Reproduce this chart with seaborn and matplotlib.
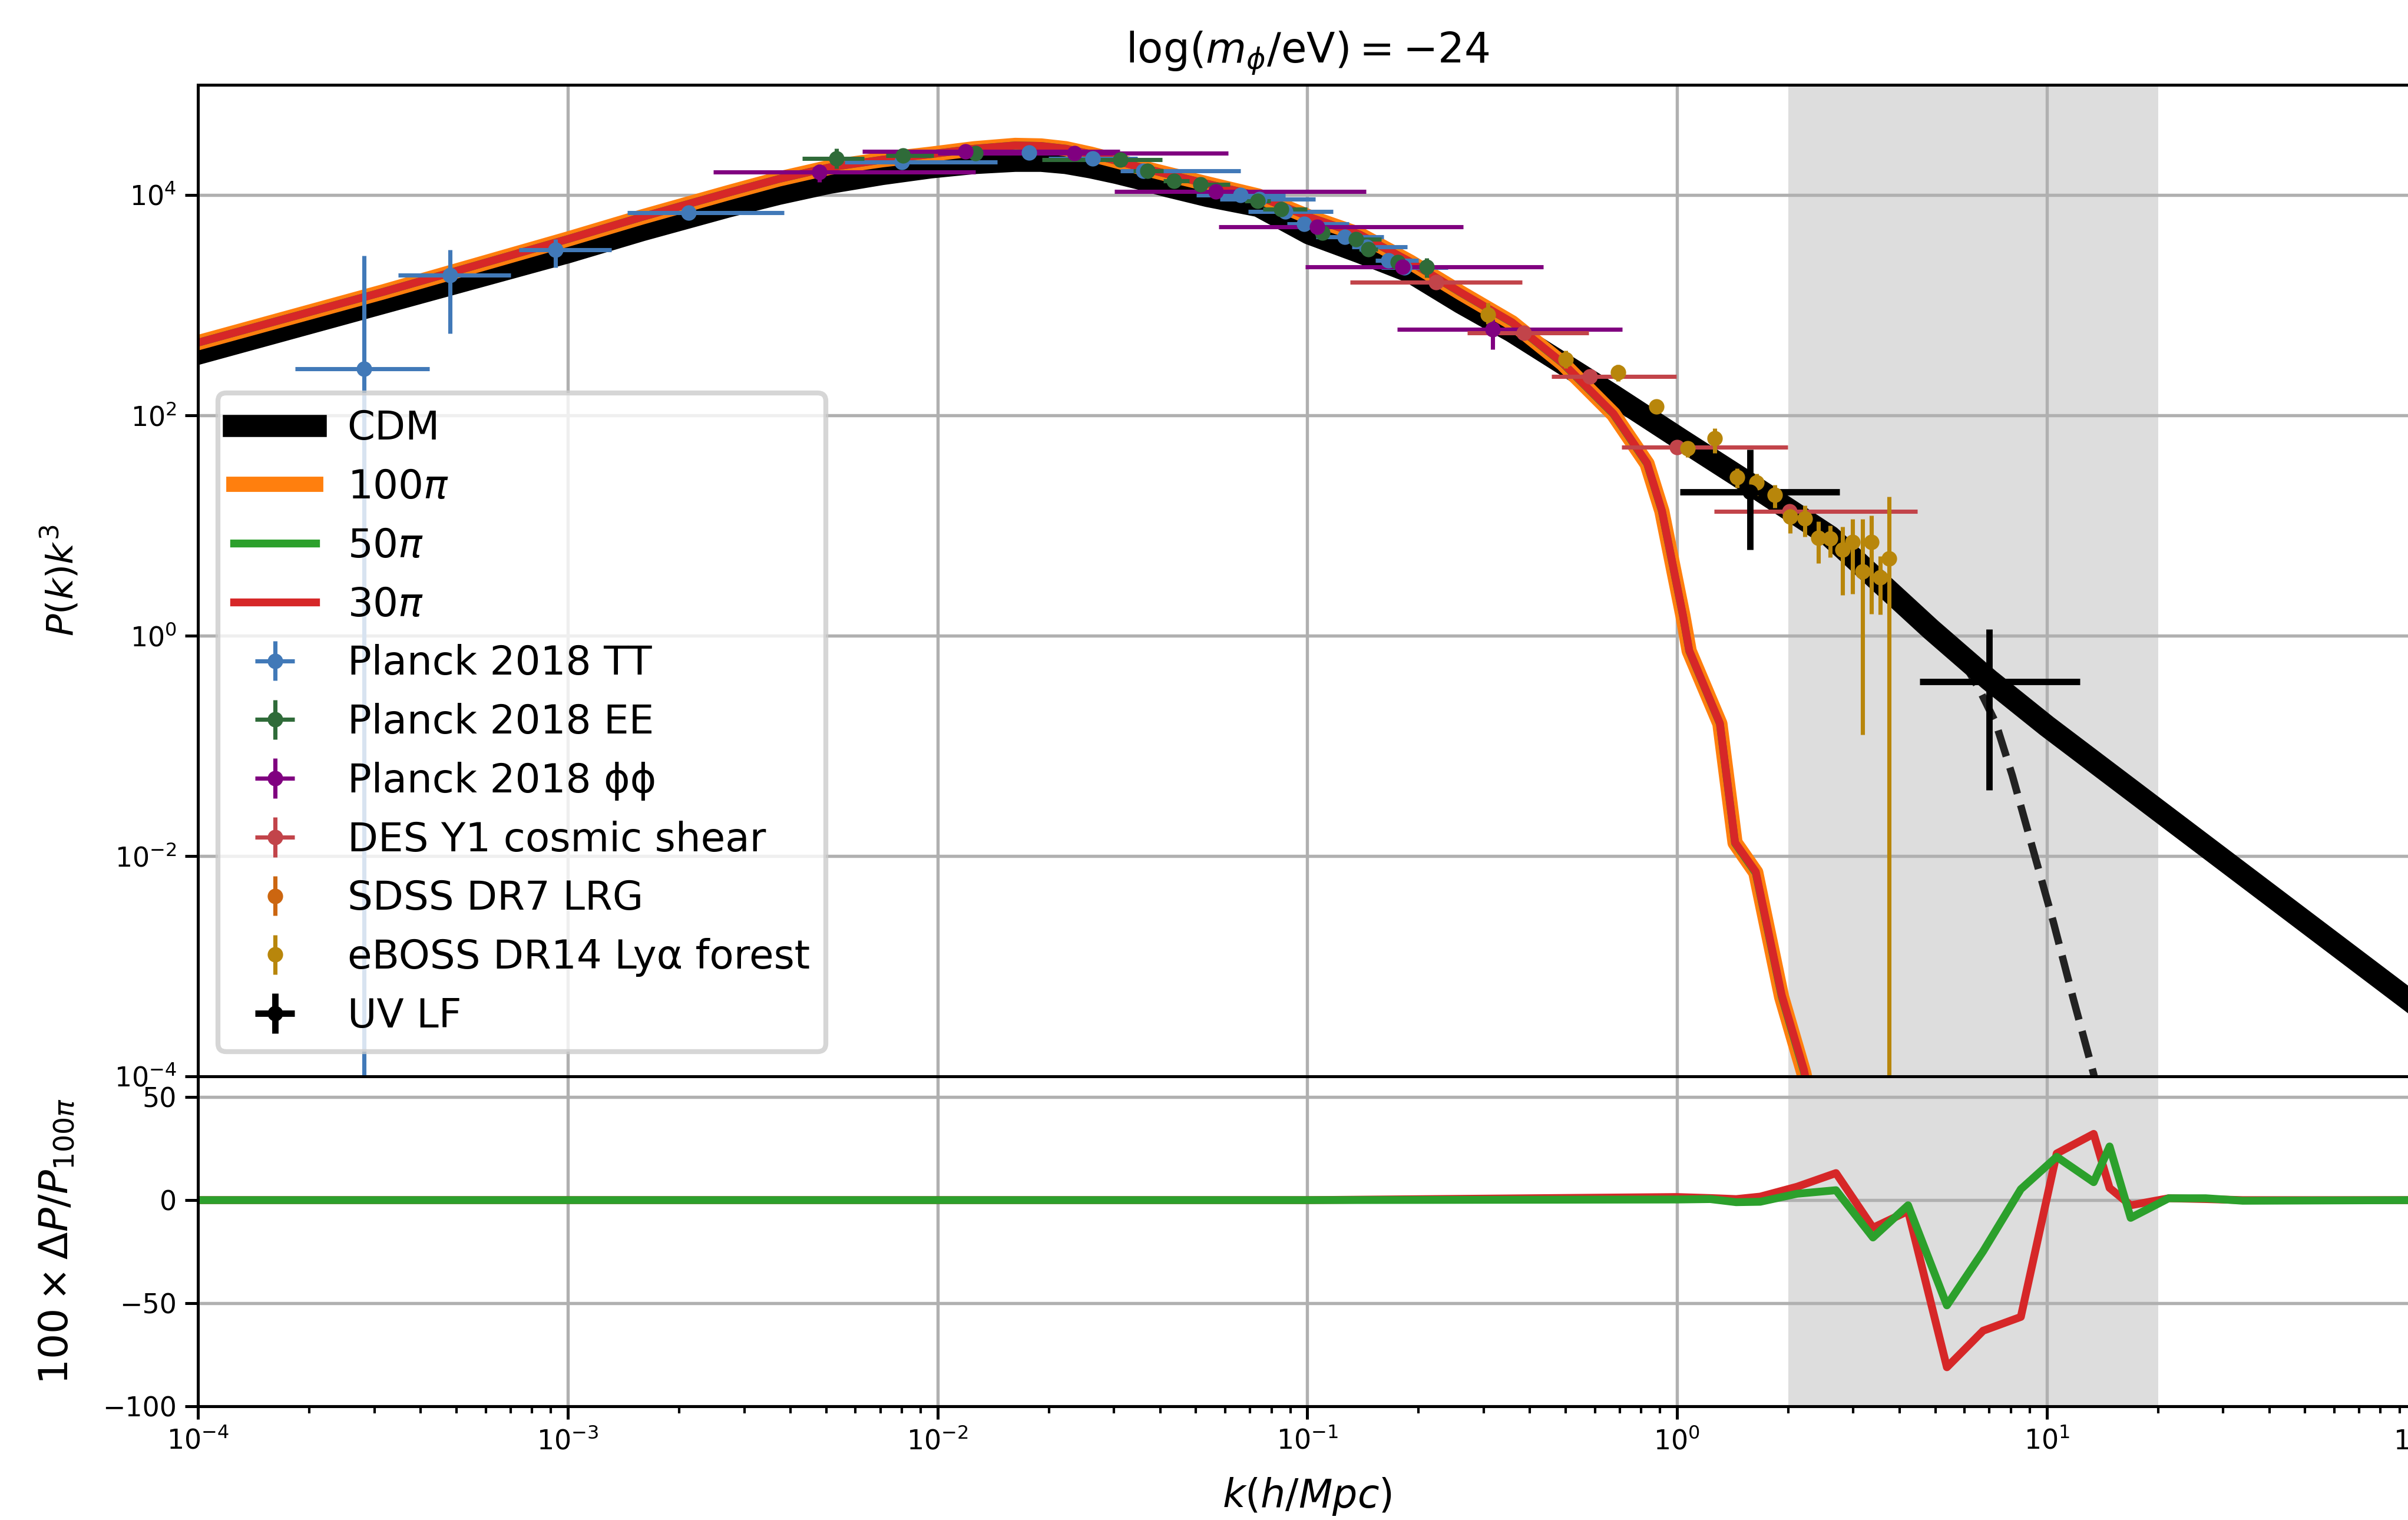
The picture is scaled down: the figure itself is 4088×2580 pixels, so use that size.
import numpy as np
import pandas as pd
import matplotlib
matplotlib.use('Agg')
import matplotlib.pyplot as plt
import seaborn as sns
from matplotlib.ticker import FixedLocator, NullLocator, LogLocator, NullFormatter, LogFormatterSciNotation

plt.rcParams['font.family'] = ['DejaVu Sans']
plt.rcParams['mathtext.fontset'] = 'dejavusans'

# ---- model curves, log10 values ----
lk_cdm = [-4.0, -3.5, -3.0, -2.8, -2.567, -2.43, -2.293, -2.15, -2.019, -1.9, -1.79, -1.72, -1.653,
          -1.585, -1.516, -1.45, -1.379, -1.269,
          -1.132, -0.995, -0.858, -0.721, -0.584, -0.446, -0.309, -0.172, 0.011, 0.178,
          0.414, 0.686, 0.844, 1.0, 1.5, 2.0]
lp_cdm = [2.56, 3.02, 3.48, 3.68, 3.895, 4.01, 4.11, 4.19, 4.25, 4.29, 4.31, 4.31, 4.29,
          4.25, 4.20, 4.145, 4.08, 3.99,
          3.90, 3.65, 3.48, 3.30, 3.02, 2.76, 2.47, 2.18, 1.78, 1.42,
          0.90, 0.06, -0.40, -0.82, -2.09, -3.36]

lk_fdm = [-4.0, -3.5, -3.0, -2.8, -2.567, -2.43, -2.293, -2.15, -2.019, -1.9, -1.79, -1.72, -1.653,
          -1.585, -1.516, -1.45, -1.379, -1.269,
          -1.132, -0.995, -0.858, -0.721, -0.584, -0.446, -0.309, -0.172, -0.081, -0.041,
          0.016, 0.033, 0.116, 0.157, 0.213, 0.283, 0.343, 0.40]
lp_100pi = [2.66, 3.12, 3.60, 3.80, 4.02, 4.145, 4.25, 4.32, 4.37, 4.42, 4.45, 4.445, 4.42,
            4.37, 4.31, 4.25, 4.19, 4.10,
            3.99, 3.80, 3.64, 3.39, 3.11, 2.84, 2.47, 2.01, 1.56, 1.13,
            0.18, -0.14, -0.80, -1.88, -2.15, -3.28, -3.97, -4.9]

# dashed curve (no legend entry)
lk_dash = [0.691, 0.785, 0.818, 0.862, 0.907, 0.962, 1.018, 1.073, 1.127, 1.14]
lp_dash = [0.0, -0.30, -0.49, -0.79, -1.27, -1.93, -2.60, -3.31, -3.98, -4.2]

# lower panel: 100 x dP/P_100pi
lk_diff = [-4.0, -1.0, 0.0, 0.09, 0.16, 0.225, 0.325, 0.43, 0.53, 0.625, 0.73, 0.828, 0.93,
           1.027, 1.127, 1.17, 1.227, 1.33, 1.43, 1.53, 2.0]
diff_30pi = [0, 0, 1.5, 1.0, 0.5, 1.7, 6.5, 13.1, -13.4, -5.3, -81.0, -63.3, -56.6,
             22.6, 32.1, 5.9, -2.5, 0.9, 0.5, 0, 0]
diff_50pi = [0, 0, 0.3, 0.5, -1.0, -0.8, 3.1, 4.8, -18.1, -2.5, -51.0, -24.8, 5.3,
             21.0, 8.7, 26.0, -8.6, 0.9, 0.9, -0.3, 0]

# ---- data points (log10 k: centre, lo, hi ; log10 P: centre, lo, hi) ----
tt_lk = [-3.552, -3.319, -3.034, -2.673, -2.096, -1.752, -1.58, -1.444, -1.18, -1.13, -1.059, -1.009, -0.899, -0.839, -0.78, -0.737]
tt_lk_lo = [-3.738, -3.459, -3.132, -2.84, -2.252, -1.90, -1.70, -1.506, -1.30, -1.237, -1.16, -1.055, -0.977, -0.88, -0.815, -0.80]
tt_lk_hi = [-3.374, -3.155, -2.883, -2.416, -1.838, -1.60, -1.46, -1.18, -1.06, -0.978, -0.93, -0.887, -0.794, -0.73, -0.70, -0.62]
tt_lp = [2.42, 3.275, 3.50, 3.84, 4.30, 4.386, 4.33, 4.22, 4.00, 3.96, 3.85, 3.74, 3.62, 3.53, 3.405, 3.34]
tt_lp_lo = [-8, 2.744, 3.34, 3.82, 4.28, 4.37, 4.31, 4.20, 3.98, 3.94, 3.83, 3.72, 3.60, 3.51, 3.39, 3.32]
tt_lp_hi = [3.45, 3.505, 3.60, 3.86, 4.32, 4.40, 4.35, 4.24, 4.02, 3.98, 3.87, 3.76, 3.64, 3.55, 3.42, 3.36]

ee_lk = [-2.274, -2.094, -1.898, -1.506, -1.433, -1.36, -1.289, -1.135, -1.07, -0.959, -0.869, -0.835, -0.755, -0.677]
ee_lk_lo = [-2.366, -2.14, -1.95, -1.717, -1.47, -1.39, -1.30, -1.17, -1.12, -0.98, -0.91, -0.86, -0.78, -0.70]
ee_lk_hi = [-2.199, -2.01, -1.80, -1.392, -1.39, -1.32, -1.21, -1.10, -1.00, -0.94, -0.80, -0.81, -0.73, -0.66]
ee_lp = [4.33, 4.36, 4.38, 4.32, 4.22, 4.13, 4.095, 3.945, 3.87, 3.66, 3.60, 3.51, 3.39, 3.35]
ee_lp_lo = [4.24, 4.34, 4.37, 4.30, 4.21, 4.12, 4.085, 3.935, 3.86, 3.65, 3.59, 3.50, 3.38, 3.25]
ee_lp_hi = [4.42, 4.38, 4.39, 4.34, 4.23, 4.14, 4.105, 3.955, 3.88, 3.67, 3.61, 3.52, 3.40, 3.43]

pp_lk = [-2.32, -1.924, -1.63, -1.248, -0.974, -0.742, -0.498]
pp_lk_lo = [-2.607, -2.204, -2.00, -1.522, -1.24, -1.006, -0.757]
pp_lk_hi = [-1.898, -1.507, -1.214, -0.841, -0.578, -0.361, -0.148]
pp_lp = [4.21, 4.395, 4.38, 4.03, 3.71, 3.35, 2.78]
pp_lp_lo = [4.12, 4.38, 4.37, 4.01, 3.69, 3.33, 2.60]
pp_lp_hi = [4.28, 4.41, 4.39, 4.05, 3.73, 3.37, 2.87]

des_lk = [-0.651, -0.414, -0.236, 0.0, 0.304]
des_lk_lo = [-0.884, -0.567, -0.34, -0.15, 0.10]
des_lk_hi = [-0.419, -0.239, -0.002, 0.30, 0.65]
des_lp = [3.21, 2.75, 2.35, 1.71, 1.13]

sdss_lk = []
sdss_lp = []

eb_lk = [-0.511, -0.301, -0.16, -0.056, 0.029, 0.102, 0.162, 0.215, 0.264, 0.306, 0.346, 0.382,
         0.414, 0.447, 0.474, 0.502, 0.526, 0.55, 0.573]
eb_lp = [2.915, 2.51, 2.39, 2.08, 1.70, 1.79, 1.44, 1.39, 1.28, 1.08, 1.065, 0.89,
         0.88, 0.78, 0.85, 0.58, 0.85, 0.53, 0.70]
eb_lp_lo = [2.83, 2.43, 2.31, 2.05, 1.62, 1.66, 1.34, 1.27, 1.16, 0.93, 0.90, 0.66,
            0.71, 0.37, 0.38, -0.90, 0.20, 0.19, -8]
eb_lp_hi = [3.02, 2.59, 2.46, 2.11, 1.76, 1.88, 1.52, 1.47, 1.37, 1.16, 1.18, 1.035,
            1.0, 0.99, 1.06, 1.06, 1.09, 0.72, 1.26]

uv_lk = [0.197, 0.844]
uv_lk_lo = [0.008, 0.656]
uv_lk_hi = [0.44, 1.089]
uv_lp = [1.305, -0.42]
uv_lp_lo = [0.78, -1.40]
uv_lp_hi = [1.69, 0.057]


def bars(lk, lp, lk_lo=None, lk_hi=None, lp_lo=None, lp_hi=None):
    k = 10 ** np.array(lk, dtype=float)
    p = 10 ** np.array(lp, dtype=float)
    xerr = None
    if lk_lo is not None:
        xerr = np.array([k - 10 ** np.array(lk_lo), 10 ** np.array(lk_hi) - k])
    if lp_lo is None:
        yerr = np.zeros((2, len(p)))
    else:
        yerr = np.array([p - 10 ** np.array(lp_lo), 10 ** np.array(lp_hi) - p])
    return k, p, xerr, yerr


fig = plt.figure(figsize=(4088 / 300, 2580 / 300), dpi=300)
ax1 = fig.add_axes([0.0823, 0.2919, 0.9212, 0.6523])
ax2 = fig.add_axes([0.0823, 0.0747, 0.9212, 0.2172], sharex=ax1)

for ax in (ax1, ax2):
    ax.axvspan(2, 20, color='#dddddd', lw=0, zorder=1)

k_cdm = 10 ** np.array(lk_cdm)
k_fdm = 10 ** np.array(lk_fdm)
p_100 = 10 ** np.array(lp_100pi)
p_30 = p_100 * (1 + np.interp(lk_fdm, lk_diff, diff_30pi) / 100)
p_50 = p_100 * (1 + np.interp(lk_fdm, lk_diff, diff_50pi) / 100)

sns.lineplot(x=10 ** np.array(lk_dash), y=10 ** np.array(lp_dash), ax=ax1, color='#222222',
             lw=3, ls='--', estimator=None, sort=False)
sns.lineplot(x=k_cdm, y=10 ** np.array(lp_cdm), ax=ax1, color='black', lw=9,
             estimator=None, sort=False, label='CDM')
sns.lineplot(x=k_fdm, y=p_100, ax=ax1, color='#ff7f0e', lw=6.2,
             estimator=None, sort=False, label=r'$100\pi$')
sns.lineplot(x=k_fdm, y=p_50, ax=ax1, color='#2ca02c', lw=3.2,
             estimator=None, sort=False, label=r'$50\pi$')
sns.lineplot(x=k_fdm, y=p_30, ax=ax1, color='#d62728', lw=3.2,
             estimator=None, sort=False, label=r'$30\pi$')

eb_kw = dict(fmt='o', ms=5.3, elinewidth=1.7, capsize=0, lw=0, zorder=3)
sets = [
    ('Planck 2018 TT', '#4179b8', bars(tt_lk, tt_lp, tt_lk_lo, tt_lk_hi, tt_lp_lo, tt_lp_hi)),
    ('Planck 2018 EE', '#2f6b39', bars(ee_lk, ee_lp, ee_lk_lo, ee_lk_hi, ee_lp_lo, ee_lp_hi)),
    ('Planck 2018 ϕϕ', '#800080', bars(pp_lk, pp_lp, pp_lk_lo, pp_lk_hi, pp_lp_lo, pp_lp_hi)),
    ('DES Y1 cosmic shear', '#c2444a', bars(des_lk, des_lp, des_lk_lo, des_lk_hi)),
]
handles = []
for name, col, (k, p, xe, ye) in sets:
    h = ax1.errorbar(k, p, xerr=xe, yerr=ye, color=col, label=name, **eb_kw)
    handles.append(h)

h = ax1.errorbar(np.array(sdss_lk), np.array(sdss_lp), yerr=np.zeros((2, 0)), color='#cc6610',
                 label='SDSS DR7 LRG', **eb_kw)
handles.append(h)
k, p, xe, ye = bars(eb_lk, eb_lp, lp_lo=eb_lp_lo, lp_hi=eb_lp_hi)
h = ax1.errorbar(k, p, yerr=ye, color='#b8860b', label='eBOSS DR14 Lyα forest', **eb_kw)
handles.append(h)
k, p, xe, ye = bars(uv_lk, uv_lp, uv_lk_lo, uv_lk_hi, uv_lp_lo, uv_lp_hi)
h = ax1.errorbar(k, p, xerr=xe, yerr=ye, color='black', label='UV LF',
                 fmt='o', ms=5.3, elinewidth=2.6, capsize=0, lw=0, zorder=3)
handles.append(h)

# lower panel
sns.lineplot(x=10 ** np.array(lk_diff), y=diff_30pi, ax=ax2, color='#d62728', lw=3.2,
             estimator=None, sort=False, legend=False)
sns.lineplot(x=10 ** np.array(lk_diff), y=diff_50pi, ax=ax2, color='#2ca02c', lw=3.2,
             estimator=None, sort=False, legend=False)

ax1.set_xscale('log')
ax1.set_yscale('log')
ax1.set_xlim(1e-4, 1e2)
ax1.set_ylim(1e-4, 1e5)
ax2.set_ylim(-100, 60)

ax1.yaxis.set_major_locator(FixedLocator([1e-4, 1e-2, 1, 1e2, 1e4]))
ax1.yaxis.set_major_formatter(LogFormatterSciNotation())
ax1.yaxis.set_minor_locator(NullLocator())
ax2.xaxis.set_major_locator(LogLocator(base=10, numticks=20))
ax2.xaxis.set_minor_locator(LogLocator(base=10, subs=np.arange(2, 10), numticks=20))
ax2.xaxis.set_minor_formatter(NullFormatter())
ax2.set_yticks([-100, -50, 0, 50])

for ax in (ax1, ax2):
    ax.grid(True, which='major', color='#b0b0b0', lw=1.3)
    for s in ax.spines.values():
        s.set_linewidth(1.2)
    ax.tick_params(which='major', length=5.3, width=1.2, labelsize=11)
    ax.tick_params(which='minor', length=2.9, width=1.0)
ax1.tick_params(axis='x', which='both', length=0, labelbottom=False)

ax1.set_title(r'$\log(m_\phi/\mathrm{eV}) = -24$', fontsize=17, pad=9)
ax1.set_xlabel('')
ax1.set_ylabel(r'$P(k)k^3$', fontsize=15)
ax1.yaxis.set_label_coords(-0.053, 0.5)
ax2.set_ylabel(r'$100\times\Delta P/P_{100\pi}$', fontsize=16.3)
ax2.yaxis.set_label_coords(-0.055, 0.5)
ax2.set_xlabel(r'$k(h/Mpc)$', fontsize=16)
ax2.xaxis.set_label_coords(0.5, -0.21)

line_handles, line_labels = ax1.get_legend_handles_labels()
lines = [hh for hh, ll in zip(line_handles, line_labels) if ll in ('CDM', r'$100\pi$', r'$50\pi$', r'$30\pi$')]
ax1.legend(handles=lines + handles, loc='upper left', bbox_to_anchor=(0.009, 0.689),
           borderaxespad=0, fontsize=16.2, handlelength=2.05, framealpha=0.8)
ax1.get_legend().get_frame().set_linewidth(2.0)

fig.savefig('out.png', dpi=300)
